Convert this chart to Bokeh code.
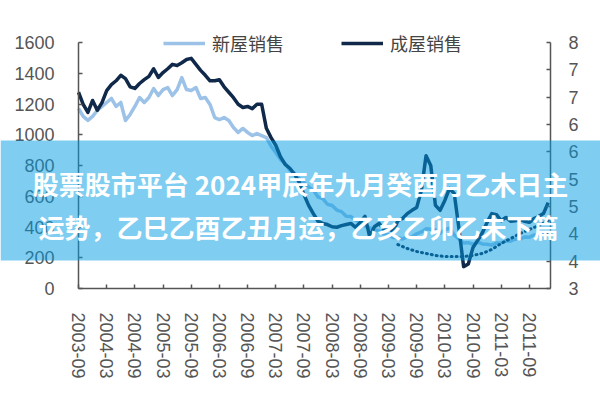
from bokeh.plotting import figure
from bokeh.models import Range1d, LinearAxis, FixedTicker, Legend, LegendItem, BoxAnnotation, Label
from bokeh.embed import file_html
from bokeh.resources import INLINE

# x tick labels (every 6 months, month index 0 = 2003-09)
tick_labels = ["2003-09", "2004-03", "2004-09", "2005-03", "2005-09", "2006-03",
               "2006-09", "2007-03", "2007-09", "2008-03", "2008-09", "2009-03",
               "2009-09", "2010-03", "2010-09", "2011-03", "2011-09"]

# 新屋销售 (left axis, thousands) monthly from 2003-09
new_home = [1171, 1119, 1093, 1119, 1158, 1184, 1210, 1236, 1184, 1210,
            1093, 1132, 1184, 1242, 1210, 1242, 1301, 1255, 1294, 1307,
            1255, 1294, 1372, 1294, 1288, 1307, 1236, 1242, 1197, 1112,
            1099, 1112, 1093, 1047, 1015, 1041, 1015, 995, 1008, 995,
            982, 925, 885, 840, 812, 770, 748, 715, 690, 660,
            640, 595, 585, 548, 540, 510, 500, 470, 468, 445,
            432, 405, 395, 380, 375, 355, 350, 332, 330, 322,
            336, 335, 356, 368, 388, 385, 380, 360, 382, 392,
            350, 322, 296, 298, 288, 302, 290, 288, 282, 296,
            297, 310, 308, 322, 320, 335, 334, 348, 350, 360, 362]

# 成屋销售 (right axis, millions) monthly from 2003-09
existing_home = [6.59, 6.37, 6.22, 6.44, 6.26, 6.40, 6.62, 6.73, 6.80, 6.90,
                 6.84, 6.69, 6.66, 6.75, 6.82, 6.88, 7.02, 6.86, 6.95, 7.02,
                 7.10, 7.08, 7.13, 7.19, 7.21, 7.10, 6.99, 6.90, 6.80, 6.80,
                 6.82, 6.69, 6.59, 6.49, 6.37, 6.31, 6.33, 6.29, 6.37, 6.37,
                 5.93, 5.76, 5.62, 5.41, 5.27, 5.20, 5.09, 4.94, 4.72, 4.52,
                 4.37, 4.23, 4.19, 4.17, 4.13, 4.12, 4.15, 4.17, 4.19, 4.12,
                 4.21, 4.32, 3.95, 4.13, 4.19, 4.08, 4.10, 4.04, 4.24, 4.28,
                 4.37, 4.43, 4.48, 4.79, 5.43, 5.25, 4.52, 4.43, 4.61, 4.83,
                 4.74, 4.10, 3.40, 3.45, 3.75, 3.88, 4.02, 4.21, 4.37, 4.35,
                 4.24, 4.30, 4.23, 4.24, 4.26, 4.23, 4.21, 4.28, 4.32, 4.37, 4.57]

# dotted trend (left axis), every 2 months starting at month index 68
trend_months = list(range(68, 101, 2))
trend = [286, 260, 241, 228, 215, 208, 208, 208, 215, 228, 254, 293, 325, 358, 384, 410, 442]

left_ticks = [0, 200, 400, 600, 800, 1000, 1200, 1400, 1600]
right_ticks = [3, 3.5, 4, 4.5, 5, 5.5, 6, 6.5, 7, 7.5]
right_labels = ["3", "4", "4", "5", "5", "6", "6", "7", "7", "8"]

banner_line1 = "股票股市平台 2024甲辰年九月癸酉月乙木日主"
banner_line2 = "运势，乙巳乙酉乙丑月运，乙亥乙卯乙未下篇"

months = list(range(len(new_home)))
tick_pos = [6 * i for i in range(len(tick_labels))]
x_end = len(new_home) - 0.5

# layout (pixels) of the drawing area inside the 600x400 canvas
W, H = 600, 400
PL, PR, PT, PB = 78, 550, 42, 288
L_LO, L_HI = left_ticks[0], left_ticks[-1]
R_LO, R_HI = right_ticks[0], right_ticks[-1]

ppx = (PR - PL) / x_end
ppl = (PB - PT) / (L_HI - L_LO)
ppr = (PB - PT) / (R_HI - R_LO)

DARK = "#10294A"
LIGHT = "#9CC2E8"
AX = "#555555"

p = figure(width=W, height=H, output_backend="svg", toolbar_location=None,
           x_range=Range1d(-PL / ppx, x_end + (W - PR) / ppx),
           y_range=Range1d(L_LO - (H - PB) / ppl, L_HI + PT / ppl),
           min_border=0, min_border_left=0, min_border_right=0,
           min_border_top=0, min_border_bottom=0)
p.extra_y_ranges = {"r": Range1d(R_LO - (H - PB) / ppr, R_HI + PT / ppr)}
p.xgrid.visible = False
p.ygrid.visible = False
p.outline_line_color = None
p.background_fill_color = "white"
p.border_fill_color = "white"

r_light = p.line(months, new_home, line_color=LIGHT, line_width=3.5, line_join="round")
r_dark = p.line(months, existing_home, y_range_name="r", line_color=DARK, line_width=3.5, line_join="round")
p.line(trend_months, trend, line_color=DARK, line_width=3, line_dash="1 4", line_cap="round")

raxis = LinearAxis(y_range_name="r")
p.add_layout(raxis, "right")

xa = p.xaxis[0]
xa.fixed_location = L_LO
xa.bounds = (0, x_end)
xa.ticker = FixedTicker(ticks=tick_pos)
xa.major_label_overrides = {pos: lab for pos, lab in zip(tick_pos, tick_labels)}
xa.major_label_orientation = "vertical"
xa.major_label_standoff = 24

ya = p.yaxis[0]
ya.fixed_location = 0
ya.bounds = (L_LO, L_HI)
ya.ticker = FixedTicker(ticks=left_ticks)
ya.major_label_standoff = 24

raxis.fixed_location = x_end
raxis.bounds = (R_LO, R_HI)
raxis.ticker = FixedTicker(ticks=right_ticks)
raxis.major_label_overrides = {t: l for t, l in zip(right_ticks, right_labels)}
raxis.major_label_standoff = 18

for ax in (xa, ya, raxis):
    ax.axis_line_color = AX
    ax.axis_line_width = 1.5
    ax.major_tick_line_color = AX
    ax.major_tick_line_width = 1.5
    ax.major_tick_in = 4
    ax.major_tick_out = 0
    ax.minor_tick_line_color = None
    ax.major_label_text_font = "Liberation Sans"
    ax.major_label_text_font_size = "18px"
    ax.major_label_text_color = AX

legend = Legend(items=[LegendItem(label="新屋销售", renderers=[r_light]),
                       LegendItem(label="成屋销售", renderers=[r_dark])],
                orientation="horizontal", location=(163, 344),
                glyph_width=42, glyph_height=20, label_standoff=7, spacing=57,
                padding=0, margin=0, border_line_color=None, background_fill_alpha=0,
                label_text_font="Noto Sans CJK SC", label_text_font_size="18px",
                label_text_color="#444444")
p.add_layout(legend, "center")

banner = BoxAnnotation(left=0, right=W, top=140, bottom=260,
                       left_units="canvas", right_units="canvas",
                       top_units="canvas", bottom_units="canvas",
                       fill_color="#009BE1", fill_alpha=0.5, line_color=None)
p.add_layout(banner)

for txt, cx, cy in ((banner_line1, 300, 183), (banner_line2, 298, 226)):
    p.add_layout(Label(x=cx, y=cy, x_units="canvas", y_units="canvas", text=txt,
                       text_align="center", text_baseline="middle",
                       text_font="Noto Sans CJK SC", text_font_size="26px",
                       text_font_style="bold", text_color="white"))

open("out.html", "w").write(file_html(p, INLINE))
